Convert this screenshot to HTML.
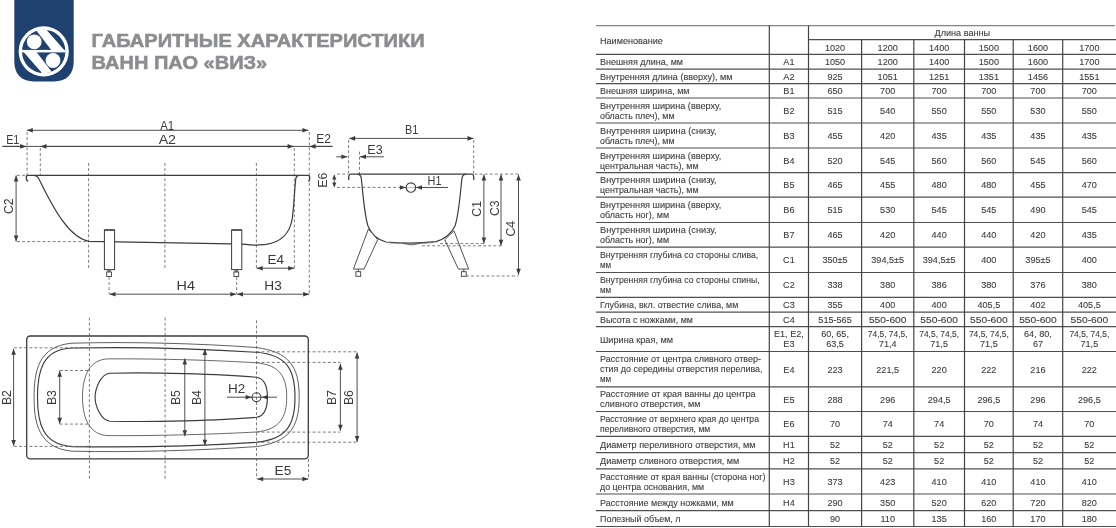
<!DOCTYPE html><html><head><meta charset="utf-8"><style>html,body{margin:0;padding:0;background:#fff;overflow:hidden}svg{display:block;will-change:transform}text{font-family:"Liberation Sans",sans-serif}</style></head><body>
<svg width="1116" height="528" viewBox="0 0 1116 528">
<rect width="1116" height="528" fill="#fff"/>
<path d="M14.3 0 H73.7 V61.3 C73.7 74 67 81.5 54 81.5 H34 C21 81.5 14.3 74 14.3 61.3 Z" fill="#1f416f"/>
<circle cx="43.7" cy="51.4" r="25.1" fill="#fff"/>
<circle cx="43.7" cy="51.4" r="21.7" fill="#1f416f"/>
<clipPath id="lc"><circle cx="43.7" cy="51.4" r="21.8"/></clipPath>
<g clip-path="url(#lc)" fill="#fff">
<rect x="18" y="49.9" width="52" height="2.5"/>
<polygon points="28.18,20.00 37.84,20.00 65.09,51.00 52.08,51.00"/>
<polygon points="59.82,82.30 50.16,82.30 22.91,51.30 35.92,51.30"/>
</g>
<circle cx="34.2" cy="41.8" r="7.4" fill="#fff"/>
<circle cx="53.0" cy="60.5" r="7.4" fill="#fff"/>
<g fill="#8c8d90" stroke="#8c8d90" stroke-width="0.55" font-weight="bold">
<text x="91.6" y="46.8" font-size="17.8" textLength="333" lengthAdjust="spacingAndGlyphs">ГАБАРИТНЫЕ ХАРАКТЕРИСТИКИ</text>
<text x="91.6" y="69.4" font-size="17.8" textLength="175.6" lengthAdjust="spacingAndGlyphs">ВАНН ПАО «ВИЗ»</text>
</g>
<line x1="26.8" y1="130.3" x2="308.4" y2="130.3" stroke="#3c3c3c" stroke-width="0.9" />
<polygon points="26.80,130.30 32.80,128.00 32.80,132.60" fill="#3c3c3c"/>
<polygon points="308.40,130.30 302.40,132.60 302.40,128.00" fill="#3c3c3c"/>
<text x="167.15" y="129.6" font-size="12.3" fill="#3a3a3a" text-anchor="middle" textLength="14.0" lengthAdjust="spacingAndGlyphs">A1</text>
<line x1="40.5" y1="146.4" x2="293.6" y2="146.4" stroke="#3c3c3c" stroke-width="0.9" />
<polygon points="40.50,146.40 46.50,144.10 46.50,148.70" fill="#3c3c3c"/>
<polygon points="293.60,146.40 287.60,148.70 287.60,144.10" fill="#3c3c3c"/>
<text x="167.35" y="143.8" font-size="12.3" fill="#3a3a3a" text-anchor="middle" textLength="17.4" lengthAdjust="spacingAndGlyphs">A2</text>
<line x1="2.5" y1="146.4" x2="26.2" y2="146.4" stroke="#3c3c3c" stroke-width="0.9" />
<polygon points="26.20,146.40 20.20,148.70 20.20,144.10" fill="#3c3c3c"/>
<text x="12.75" y="143.7" font-size="12.3" fill="#3a3a3a" text-anchor="middle" textLength="13.2" lengthAdjust="spacingAndGlyphs">E1</text>
<line x1="332.5" y1="146.4" x2="309.6" y2="146.4" stroke="#3c3c3c" stroke-width="0.9" />
<polygon points="309.60,146.40 315.60,144.10 315.60,148.70" fill="#3c3c3c"/>
<text x="323.65" y="143.4" font-size="12.3" fill="#3a3a3a" text-anchor="middle" textLength="14.6" lengthAdjust="spacingAndGlyphs">E2</text>
<line x1="2.5" y1="146.4" x2="332.5" y2="146.4" stroke="#3c3c3c" stroke-width="0.9" />
<line x1="27.1" y1="132" x2="27.1" y2="175" stroke="#5a5a5a" stroke-width="0.8" stroke-dasharray="2.9 2.2"/>
<line x1="40.3" y1="148" x2="40.3" y2="175" stroke="#5a5a5a" stroke-width="0.8" stroke-dasharray="2.9 2.2"/>
<line x1="294.3" y1="148" x2="294.3" y2="269" stroke="#5a5a5a" stroke-width="0.8" stroke-dasharray="2.9 2.2"/>
<line x1="309.3" y1="132" x2="309.3" y2="293.5" stroke="#5a5a5a" stroke-width="0.8" stroke-dasharray="2.9 2.2"/>
<line x1="88.6" y1="163" x2="88.6" y2="269" stroke="#5a5a5a" stroke-width="0.8" stroke-dasharray="2.9 2.2"/>
<line x1="164.9" y1="163" x2="164.9" y2="269" stroke="#5a5a5a" stroke-width="0.8" stroke-dasharray="2.9 2.2"/>
<line x1="256.4" y1="163" x2="256.4" y2="269" stroke="#5a5a5a" stroke-width="0.8" stroke-dasharray="2.9 2.2"/>
<path d="M28.2 181 Q26.3 180.6 26.3 178.6 V176.6 Q26.3 175.3 28 175.3 H308 Q309.6 175.3 309.6 176.8 V179.5 Q309.6 181.2 308.3 181.4" fill="none" stroke="#3c3c3c" stroke-width="1.3"/>
<path d="M34.2 175.3 Q37 175.4 38.6 178.2 C55 212 70 238 89 241.3 L104.5 241.6 L231.5 243.9 L246 244.4 C252 245.6 258 245.3 266 244.4 C282 242 290 232 292.2 219 C294 206 294.5 190 295.8 178.5 Q296.5 175.3 299 175.3" fill="none" stroke="#3c3c3c" stroke-width="1.2"/>
<rect x="104.4" y="230" width="10.2" height="39.6" fill="#fff" stroke="#3c3c3c" stroke-width="1.0"/>
<line x1="104.4" y1="230" x2="114.60000000000001" y2="230" stroke="#3c3c3c" stroke-width="1.3" />
<rect x="106.7" y="272" width="4.8" height="4.5" fill="#fff" stroke="#3c3c3c" stroke-width="0.9"/>
<rect x="107.30" y="269.6" width="3.5" height="2.4" fill="#6a6a6a"/>
<rect x="231.6" y="230" width="10.2" height="39.6" fill="#fff" stroke="#3c3c3c" stroke-width="1.0"/>
<line x1="231.6" y1="230" x2="241.79999999999998" y2="230" stroke="#3c3c3c" stroke-width="1.3" />
<rect x="233.9" y="272" width="4.8" height="4.5" fill="#fff" stroke="#3c3c3c" stroke-width="0.9"/>
<rect x="234.50" y="269.6" width="3.5" height="2.4" fill="#6a6a6a"/>
<line x1="16.1" y1="175.5" x2="16.1" y2="241.4" stroke="#3c3c3c" stroke-width="0.9" />
<polygon points="16.10,175.50 18.40,181.50 13.80,181.50" fill="#3c3c3c"/>
<polygon points="16.10,241.40 13.80,235.40 18.40,235.40" fill="#3c3c3c"/>
<line x1="17" y1="175.3" x2="26.5" y2="175.3" stroke="#5a5a5a" stroke-width="0.8" stroke-dasharray="2.9 2.2"/>
<line x1="17" y1="241.6" x2="88" y2="241.6" stroke="#5a5a5a" stroke-width="0.8" stroke-dasharray="2.9 2.2"/>
<text x="0" y="0" font-size="12.3" fill="#3a3a3a" text-anchor="middle" transform="translate(12.6,206.2) rotate(-90)">C2</text>
<line x1="109.1" y1="277" x2="109.1" y2="294" stroke="#5a5a5a" stroke-width="0.8" stroke-dasharray="2.9 2.2"/>
<line x1="236.6" y1="277" x2="236.6" y2="294" stroke="#5a5a5a" stroke-width="0.8" stroke-dasharray="2.9 2.2"/>
<line x1="109.5" y1="294.2" x2="236.3" y2="294.2" stroke="#3c3c3c" stroke-width="0.9" />
<polygon points="109.50,294.20 115.50,291.90 115.50,296.50" fill="#3c3c3c"/>
<polygon points="236.30,294.20 230.30,296.50 230.30,291.90" fill="#3c3c3c"/>
<text x="185.75" y="290" font-size="12.3" fill="#3a3a3a" text-anchor="middle" textLength="18.4" lengthAdjust="spacingAndGlyphs">H4</text>
<line x1="237.0" y1="294.2" x2="309.2" y2="294.2" stroke="#3c3c3c" stroke-width="0.9" />
<polygon points="237.00,294.20 243.00,291.90 243.00,296.50" fill="#3c3c3c"/>
<polygon points="309.20,294.20 303.20,296.50 303.20,291.90" fill="#3c3c3c"/>
<text x="273.0" y="290" font-size="12.3" fill="#3a3a3a" text-anchor="middle" textLength="17.5" lengthAdjust="spacingAndGlyphs">H3</text>
<line x1="256.7" y1="268.2" x2="294.2" y2="268.2" stroke="#3c3c3c" stroke-width="0.9" />
<polygon points="256.70,268.20 262.70,265.90 262.70,270.50" fill="#3c3c3c"/>
<polygon points="294.20,268.20 288.20,270.50 288.20,265.90" fill="#3c3c3c"/>
<text x="275.8" y="263.8" font-size="12.3" fill="#3a3a3a" text-anchor="middle" textLength="16.5" lengthAdjust="spacingAndGlyphs">E4</text>
<line x1="349.2" y1="138.4" x2="473.5" y2="138.4" stroke="#3c3c3c" stroke-width="0.9" />
<polygon points="349.20,138.40 355.20,136.10 355.20,140.70" fill="#3c3c3c"/>
<polygon points="473.50,138.40 467.50,140.70 467.50,136.10" fill="#3c3c3c"/>
<text x="411.7" y="134.2" font-size="12.3" fill="#3a3a3a" text-anchor="middle" textLength="13.3" lengthAdjust="spacingAndGlyphs">B1</text>
<line x1="348.6" y1="140" x2="348.6" y2="174" stroke="#5a5a5a" stroke-width="0.8" stroke-dasharray="2.9 2.2"/>
<line x1="473.7" y1="140" x2="473.7" y2="174" stroke="#5a5a5a" stroke-width="0.8" stroke-dasharray="2.9 2.2"/>
<line x1="336.2" y1="156.8" x2="347.4" y2="156.8" stroke="#3c3c3c" stroke-width="0.9" />
<polygon points="347.40,156.80 341.40,159.10 341.40,154.50" fill="#3c3c3c"/>
<line x1="383.9" y1="156.8" x2="360.0" y2="156.8" stroke="#3c3c3c" stroke-width="0.9" />
<polygon points="360.00,156.80 366.00,154.50 366.00,159.10" fill="#3c3c3c"/>
<text x="374.95" y="153.9" font-size="12.3" fill="#3a3a3a" text-anchor="middle" textLength="15.4" lengthAdjust="spacingAndGlyphs">E3</text>
<line x1="359.5" y1="151.6" x2="359.5" y2="174" stroke="#5a5a5a" stroke-width="0.8" stroke-dasharray="2.9 2.2"/>
<path d="M348.7 180 Q348.3 174.1 350.5 174.1 H472 Q474 174.1 473.8 180" fill="none" stroke="#3c3c3c" stroke-width="1.3"/>
<path d="M357.5 174.1 Q360.5 174.3 361.3 178 C363 195 364.5 215 368 226 C371 234 377 239.5 386 242 C400 243.2 422 243.2 436 241.6 C445 239 451 234 455 226 C459 214 460 195 462 178 Q462.8 174.3 466 174.1" fill="none" stroke="#3c3c3c" stroke-width="1.2"/>
<path d="M388 242.8 C400 244 422 244 434 242.4" fill="none" stroke="#777" stroke-width="0.7"/><path d="M403 243.4 Q412 246.4 420 243.4" fill="none" stroke="#555" stroke-width="0.9"/>
<polygon points="368.4,229 377.7,239.7 364,269.1 353.4,269.1" fill="#fff" stroke="#3c3c3c" stroke-width="0.9"/>
<polygon points="454,230.8 444.7,239.7 458.4,269.1 468.6,269.1" fill="#fff" stroke="#3c3c3c" stroke-width="0.9"/>
<rect x="355.9" y="271.7" width="4.8" height="4.6" fill="#fff" stroke="#3c3c3c" stroke-width="0.9"/>
<rect x="461.4" y="271.7" width="4.8" height="4.6" fill="#fff" stroke="#3c3c3c" stroke-width="0.9"/>
<line x1="358.3" y1="269.1" x2="358.3" y2="271.7" stroke="#3c3c3c" stroke-width="0.9" />
<line x1="463.8" y1="269.1" x2="463.8" y2="271.7" stroke="#3c3c3c" stroke-width="0.9" />
<line x1="337" y1="174.1" x2="348" y2="174.1" stroke="#5a5a5a" stroke-width="0.8" stroke-dasharray="2.9 2.2"/>
<line x1="337" y1="187.4" x2="400" y2="187.4" stroke="#5a5a5a" stroke-width="0.8" stroke-dasharray="2.9 2.2"/>
<line x1="334.3" y1="175" x2="334.3" y2="187" stroke="#3c3c3c" stroke-width="0.8" />
<polygon points="334.30,174.40 336.40,179.40 332.20,179.40" fill="#3c3c3c"/>
<polygon points="334.30,187.40 332.20,182.40 336.40,182.40" fill="#3c3c3c"/>
<text x="0" y="0" font-size="12.3" fill="#3a3a3a" text-anchor="middle" transform="translate(327.4,180.2) rotate(-90)">E6</text>
<line x1="405" y1="187.5" x2="416" y2="187.5" stroke="#999" stroke-width="0.6" />
<circle cx="410.9" cy="187.5" r="4.7" fill="none" stroke="#3c3c3c" stroke-width="1.15"/>
<line x1="400" y1="187.5" x2="405.9" y2="187.5" stroke="#3c3c3c" stroke-width="0.9" />
<polygon points="405.90,187.50 399.90,189.80 399.90,185.20" fill="#3c3c3c"/>
<line x1="448" y1="187.5" x2="416.0" y2="187.5" stroke="#3c3c3c" stroke-width="0.9" />
<polygon points="416.00,187.50 422.00,185.20 422.00,189.80" fill="#3c3c3c"/>
<text x="434.5" y="185.2" font-size="12.3" fill="#3a3a3a" text-anchor="middle" textLength="13.9" lengthAdjust="spacingAndGlyphs">H1</text>
<line x1="474.5" y1="174.1" x2="520.6" y2="174.1" stroke="#5a5a5a" stroke-width="0.8" stroke-dasharray="2.9 2.2"/>
<line x1="483.9" y1="174.6" x2="483.9" y2="243.6" stroke="#3c3c3c" stroke-width="0.9" />
<polygon points="483.90,174.60 486.20,180.60 481.60,180.60" fill="#3c3c3c"/>
<polygon points="483.90,243.60 481.60,237.60 486.20,237.60" fill="#3c3c3c"/>
<line x1="501.0" y1="174.6" x2="501.0" y2="245.8" stroke="#3c3c3c" stroke-width="0.9" />
<polygon points="501.00,174.60 503.30,180.60 498.70,180.60" fill="#3c3c3c"/>
<polygon points="501.00,245.80 498.70,239.80 503.30,239.80" fill="#3c3c3c"/>
<line x1="518.5" y1="174.6" x2="518.5" y2="274.8" stroke="#3c3c3c" stroke-width="0.9" />
<polygon points="518.50,174.60 520.80,180.60 516.20,180.60" fill="#3c3c3c"/>
<polygon points="518.50,274.80 516.20,268.80 520.80,268.80" fill="#3c3c3c"/>
<line x1="440" y1="243.6" x2="483.9" y2="243.6" stroke="#5a5a5a" stroke-width="0.8" stroke-dasharray="2.9 2.2"/>
<line x1="422" y1="245.8" x2="501" y2="245.8" stroke="#5a5a5a" stroke-width="0.8" stroke-dasharray="2.9 2.2"/>
<line x1="466" y1="276" x2="518.5" y2="276" stroke="#5a5a5a" stroke-width="0.8" stroke-dasharray="2.9 2.2"/>
<text x="0" y="0" font-size="12.3" fill="#3a3a3a" text-anchor="middle" transform="translate(480.5,208.8) rotate(-90)">C1</text>
<text x="0" y="0" font-size="12.3" fill="#3a3a3a" text-anchor="middle" transform="translate(499,208.2) rotate(-90)">C3</text>
<text x="0" y="0" font-size="12.3" fill="#3a3a3a" text-anchor="middle" transform="translate(515,228.7) rotate(-90)">C4</text>
<rect x="26.7" y="336" width="281.6" height="122.8" rx="3.6" fill="none" stroke="#3c3c3c" stroke-width="1.3"/>
<path d="M34.1 397.2 C34.1 372 38 346 72 343.2 C130 341.5 200 343.5 256.6 347.5 C288 352 299.2 365 299.2 397.2 C299.2 429 288 442 256.6 446.6 C200 450.5 130 452.5 72 451.2 C38 448 34.1 422 34.1 397.2 Z" fill="none" stroke="#606060" stroke-width="1.0"/>
<path d="M37.5 397.2 C37.5 372 42 349 72 348 C130 346.8 200 348.5 256.6 352.3 C286 355 295 368 295 397.2 C295 426 286 439 256.6 442.3 C200 446 130 447.6 72 446.6 C42 445 37.5 422 37.5 397.2 Z" fill="none" stroke="#3c3c3c" stroke-width="1.15"/>
<path d="M82.5 397.2 C82.5 375 90 359.5 108 358.9 C160 358.5 220 360.5 256.6 362.8 C280 365 286.7 377 286.7 397.2 C286.7 417 280 429.5 256.6 432 C220 434 160 436 108 435.6 C90 435 82.5 419 82.5 397.2 Z" fill="none" stroke="#626262" stroke-width="0.95"/>
<path d="M95.1 397.2 C95.1 390 100 374 110 373.2 C150 372.2 220 373.8 256.6 377.3 C264 378.5 267.4 386 267.4 397.2 C267.4 408 264 416 256.6 417.3 C220 420.6 150 422.2 110 421.2 C100 420.4 95.1 404.4 95.1 397.2 Z" fill="none" stroke="#3c3c3c" stroke-width="1.15"/>
<line x1="89.4" y1="317.6" x2="89.4" y2="479" stroke="#5a5a5a" stroke-width="0.8" stroke-dasharray="2.9 2.2"/>
<line x1="165.1" y1="317.6" x2="165.1" y2="479" stroke="#5a5a5a" stroke-width="0.8" stroke-dasharray="2.9 2.2"/>
<line x1="256.5" y1="320.4" x2="256.5" y2="479" stroke="#5a5a5a" stroke-width="0.8" stroke-dasharray="2.9 2.2"/>
<line x1="308.5" y1="459" x2="308.5" y2="479" stroke="#5a5a5a" stroke-width="0.8" stroke-dasharray="2.9 2.2"/>
<line x1="14" y1="347.8" x2="89.4" y2="347.8" stroke="#5a5a5a" stroke-width="0.8" stroke-dasharray="2.9 2.2"/>
<line x1="14" y1="446.4" x2="89.4" y2="446.4" stroke="#5a5a5a" stroke-width="0.8" stroke-dasharray="2.9 2.2"/>
<line x1="13.6" y1="348.8" x2="13.6" y2="445.9" stroke="#3c3c3c" stroke-width="0.9" />
<polygon points="13.60,348.80 15.90,354.80 11.30,354.80" fill="#3c3c3c"/>
<polygon points="13.60,445.90 11.30,439.90 15.90,439.90" fill="#3c3c3c"/>
<text x="0" y="0" font-size="12.3" fill="#3a3a3a" text-anchor="middle" transform="translate(11.2,397.6) rotate(-90)">B2</text>
<line x1="59.7" y1="370.5" x2="89.4" y2="370.5" stroke="#5a5a5a" stroke-width="0.8" stroke-dasharray="2.9 2.2"/>
<line x1="59.7" y1="424.1" x2="89.4" y2="424.1" stroke="#5a5a5a" stroke-width="0.8" stroke-dasharray="2.9 2.2"/>
<line x1="59.7" y1="370.8" x2="59.7" y2="423.8" stroke="#3c3c3c" stroke-width="0.9" />
<polygon points="59.70,370.80 62.00,376.80 57.40,376.80" fill="#3c3c3c"/>
<polygon points="59.70,423.80 57.40,417.80 62.00,417.80" fill="#3c3c3c"/>
<text x="0" y="0" font-size="12.3" fill="#3a3a3a" text-anchor="middle" transform="translate(56.4,397.6) rotate(-90)">B3</text>
<line x1="184.8" y1="358.5" x2="184.8" y2="436.2" stroke="#3c3c3c" stroke-width="0.9" />
<polygon points="184.80,358.50 187.10,364.50 182.50,364.50" fill="#3c3c3c"/>
<polygon points="184.80,436.20 182.50,430.20 187.10,430.20" fill="#3c3c3c"/>
<line x1="204.9" y1="348.9" x2="204.9" y2="445.8" stroke="#3c3c3c" stroke-width="0.9" />
<polygon points="204.90,348.90 207.20,354.90 202.60,354.90" fill="#3c3c3c"/>
<polygon points="204.90,445.80 202.60,439.80 207.20,439.80" fill="#3c3c3c"/>
<text x="0" y="0" font-size="12.3" fill="#3a3a3a" text-anchor="middle" transform="translate(180.3,397.6) rotate(-90)">B5</text>
<text x="0" y="0" font-size="12.3" fill="#3a3a3a" text-anchor="middle" transform="translate(201.0,397.6) rotate(-90)">B4</text>
<line x1="227" y1="397.2" x2="277" y2="397.2" stroke="#3c3c3c" stroke-width="0.9" />
<polygon points="251.60,397.20 245.60,399.50 245.60,394.90" fill="#3c3c3c"/>
<polygon points="261.70,397.20 267.70,394.90 267.70,399.50" fill="#3c3c3c"/>
<circle cx="256.5" cy="397.2" r="4.4" fill="none" stroke="#3c3c3c" stroke-width="1.1"/>
<text x="236.55" y="393.4" font-size="12.3" fill="#3a3a3a" text-anchor="middle" textLength="17.2" lengthAdjust="spacingAndGlyphs">H2</text>
<line x1="256.5" y1="351.8" x2="357.1" y2="351.8" stroke="#5a5a5a" stroke-width="0.8" stroke-dasharray="2.9 2.2"/>
<line x1="256.5" y1="442.2" x2="357.1" y2="442.2" stroke="#5a5a5a" stroke-width="0.8" stroke-dasharray="2.9 2.2"/>
<line x1="256.5" y1="362.4" x2="340.4" y2="362.4" stroke="#5a5a5a" stroke-width="0.8" stroke-dasharray="2.9 2.2"/>
<line x1="256.5" y1="432.1" x2="340.4" y2="432.1" stroke="#5a5a5a" stroke-width="0.8" stroke-dasharray="2.9 2.2"/>
<line x1="357.1" y1="352.6" x2="357.1" y2="442.0" stroke="#3c3c3c" stroke-width="0.9" />
<polygon points="357.10,352.60 359.40,358.60 354.80,358.60" fill="#3c3c3c"/>
<polygon points="357.10,442.00 354.80,436.00 359.40,436.00" fill="#3c3c3c"/>
<line x1="340.4" y1="363.8" x2="340.4" y2="430.8" stroke="#3c3c3c" stroke-width="0.9" />
<polygon points="340.40,363.80 342.70,369.80 338.10,369.80" fill="#3c3c3c"/>
<polygon points="340.40,430.80 338.10,424.80 342.70,424.80" fill="#3c3c3c"/>
<text x="0" y="0" font-size="12.3" fill="#3a3a3a" text-anchor="middle" transform="translate(336.2,397.6) rotate(-90)">B7</text>
<text x="0" y="0" font-size="12.3" fill="#3a3a3a" text-anchor="middle" transform="translate(353.0,397.6) rotate(-90)">B6</text>
<line x1="257.2" y1="479" x2="308.4" y2="479" stroke="#3c3c3c" stroke-width="0.9" />
<polygon points="257.20,479.00 263.20,476.70 263.20,481.30" fill="#3c3c3c"/>
<polygon points="308.40,479.00 302.40,481.30 302.40,476.70" fill="#3c3c3c"/>
<text x="282.9" y="474.9" font-size="12.3" fill="#3a3a3a" text-anchor="middle" textLength="16.7" lengthAdjust="spacingAndGlyphs">E5</text>
<g font-size="9.1" fill="#3c3c3c" stroke="#3c3c3c" stroke-width="0.1">
<text x="600" y="43.50" text-anchor="start" textLength="62.9" lengthAdjust="spacingAndGlyphs">Наименование</text>
<text x="962.3" y="36.0" text-anchor="middle">Длина ванны</text>
<text x="835.05" y="50.50" text-anchor="middle">1020</text>
<text x="887.7" y="50.50" text-anchor="middle">1200</text>
<text x="939.15" y="50.50" text-anchor="middle">1400</text>
<text x="988.85" y="50.50" text-anchor="middle">1500</text>
<text x="1037.95" y="50.50" text-anchor="middle">1600</text>
<text x="1089.35" y="50.50" text-anchor="middle">1700</text>
<text x="600" y="65.30" text-anchor="start" textLength="83.0" lengthAdjust="spacingAndGlyphs">Внешняя длина, мм</text>
<text x="788.9" y="65.30" text-anchor="middle">A1</text>
<g font-size="9.1">
<text x="835.05" y="65.30" text-anchor="middle">1050</text>
<text x="887.7" y="65.30" text-anchor="middle">1200</text>
<text x="939.15" y="65.30" text-anchor="middle">1400</text>
<text x="988.85" y="65.30" text-anchor="middle">1500</text>
<text x="1037.95" y="65.30" text-anchor="middle">1600</text>
<text x="1089.35" y="65.30" text-anchor="middle">1700</text>
</g>
<text x="600" y="79.90" text-anchor="start" textLength="132.6" lengthAdjust="spacingAndGlyphs">Внутренняя длина (вверху), мм</text>
<text x="788.9" y="79.90" text-anchor="middle">A2</text>
<g font-size="9.1">
<text x="835.05" y="79.90" text-anchor="middle">925</text>
<text x="887.7" y="79.90" text-anchor="middle">1051</text>
<text x="939.15" y="79.90" text-anchor="middle">1251</text>
<text x="988.85" y="79.90" text-anchor="middle">1351</text>
<text x="1037.95" y="79.90" text-anchor="middle">1456</text>
<text x="1089.35" y="79.90" text-anchor="middle">1551</text>
</g>
<text x="600" y="94.30" text-anchor="start" textLength="89.5" lengthAdjust="spacingAndGlyphs">Внешняя ширина, мм</text>
<text x="788.9" y="94.30" text-anchor="middle">B1</text>
<g font-size="9.1">
<text x="835.05" y="94.30" text-anchor="middle">650</text>
<text x="887.7" y="94.30" text-anchor="middle">700</text>
<text x="939.15" y="94.30" text-anchor="middle">700</text>
<text x="988.85" y="94.30" text-anchor="middle">700</text>
<text x="1037.95" y="94.30" text-anchor="middle">700</text>
<text x="1089.35" y="94.30" text-anchor="middle">700</text>
</g>
<text x="600" y="108.80" text-anchor="start" textLength="121.3" lengthAdjust="spacingAndGlyphs">Внутренняя ширина (вверху,</text>
<text x="600" y="118.80" text-anchor="start" textLength="74.5" lengthAdjust="spacingAndGlyphs">область плеч), мм</text>
<text x="788.9" y="114.00" text-anchor="middle">B2</text>
<g font-size="9.1">
<text x="835.05" y="114.00" text-anchor="middle">515</text>
<text x="887.7" y="114.00" text-anchor="middle">540</text>
<text x="939.15" y="114.00" text-anchor="middle">550</text>
<text x="988.85" y="114.00" text-anchor="middle">550</text>
<text x="1037.95" y="114.00" text-anchor="middle">530</text>
<text x="1089.35" y="114.00" text-anchor="middle">550</text>
</g>
<text x="600" y="133.80" text-anchor="start" textLength="116.5" lengthAdjust="spacingAndGlyphs">Внутренняя ширина (снизу,</text>
<text x="600" y="143.80" text-anchor="start" textLength="74.5" lengthAdjust="spacingAndGlyphs">область плеч), мм</text>
<text x="788.9" y="139.00" text-anchor="middle">B3</text>
<g font-size="9.1">
<text x="835.05" y="139.00" text-anchor="middle">455</text>
<text x="887.7" y="139.00" text-anchor="middle">420</text>
<text x="939.15" y="139.00" text-anchor="middle">435</text>
<text x="988.85" y="139.00" text-anchor="middle">435</text>
<text x="1037.95" y="139.00" text-anchor="middle">435</text>
<text x="1089.35" y="139.00" text-anchor="middle">435</text>
</g>
<text x="600" y="158.60" text-anchor="start" textLength="121.3" lengthAdjust="spacingAndGlyphs">Внутренняя ширина (вверху,</text>
<text x="600" y="168.60" text-anchor="start" textLength="98.6" lengthAdjust="spacingAndGlyphs">центральная часть), мм</text>
<text x="788.9" y="163.80" text-anchor="middle">B4</text>
<g font-size="9.1">
<text x="835.05" y="163.80" text-anchor="middle">520</text>
<text x="887.7" y="163.80" text-anchor="middle">545</text>
<text x="939.15" y="163.80" text-anchor="middle">560</text>
<text x="988.85" y="163.80" text-anchor="middle">560</text>
<text x="1037.95" y="163.80" text-anchor="middle">545</text>
<text x="1089.35" y="163.80" text-anchor="middle">560</text>
</g>
<text x="600" y="183.20" text-anchor="start" textLength="116.5" lengthAdjust="spacingAndGlyphs">Внутренняя ширина (снизу,</text>
<text x="600" y="193.20" text-anchor="start" textLength="98.6" lengthAdjust="spacingAndGlyphs">центральная часть), мм</text>
<text x="788.9" y="188.40" text-anchor="middle">B5</text>
<g font-size="9.1">
<text x="835.05" y="188.40" text-anchor="middle">465</text>
<text x="887.7" y="188.40" text-anchor="middle">455</text>
<text x="939.15" y="188.40" text-anchor="middle">480</text>
<text x="988.85" y="188.40" text-anchor="middle">480</text>
<text x="1037.95" y="188.40" text-anchor="middle">455</text>
<text x="1089.35" y="188.40" text-anchor="middle">470</text>
</g>
<text x="600" y="208.15" text-anchor="start" textLength="121.3" lengthAdjust="spacingAndGlyphs">Внутренняя ширина (вверху,</text>
<text x="600" y="218.15" text-anchor="start" textLength="69.1" lengthAdjust="spacingAndGlyphs">область ног), мм</text>
<text x="788.9" y="213.35" text-anchor="middle">B6</text>
<g font-size="9.1">
<text x="835.05" y="213.35" text-anchor="middle">515</text>
<text x="887.7" y="213.35" text-anchor="middle">530</text>
<text x="939.15" y="213.35" text-anchor="middle">545</text>
<text x="988.85" y="213.35" text-anchor="middle">545</text>
<text x="1037.95" y="213.35" text-anchor="middle">490</text>
<text x="1089.35" y="213.35" text-anchor="middle">545</text>
</g>
<text x="600" y="233.15" text-anchor="start" textLength="116.5" lengthAdjust="spacingAndGlyphs">Внутренняя ширина (снизу,</text>
<text x="600" y="243.15" text-anchor="start" textLength="69.1" lengthAdjust="spacingAndGlyphs">область ног), мм</text>
<text x="788.9" y="238.35" text-anchor="middle">B7</text>
<g font-size="9.1">
<text x="835.05" y="238.35" text-anchor="middle">465</text>
<text x="887.7" y="238.35" text-anchor="middle">420</text>
<text x="939.15" y="238.35" text-anchor="middle">440</text>
<text x="988.85" y="238.35" text-anchor="middle">440</text>
<text x="1037.95" y="238.35" text-anchor="middle">420</text>
<text x="1089.35" y="238.35" text-anchor="middle">435</text>
</g>
<text x="600" y="258.15" text-anchor="start" textLength="158.2" lengthAdjust="spacingAndGlyphs">Внутренняя глубина со стороны слива,</text>
<text x="600" y="268.15" text-anchor="start" textLength="11.2" lengthAdjust="spacingAndGlyphs">мм</text>
<text x="788.9" y="263.35" text-anchor="middle">C1</text>
<g font-size="9.1">
<text x="835.05" y="263.35" text-anchor="middle">350±5</text>
<text x="887.7" y="263.35" text-anchor="middle">394,5±5</text>
<text x="939.15" y="263.35" text-anchor="middle">394,5±5</text>
<text x="988.85" y="263.35" text-anchor="middle">400</text>
<text x="1037.95" y="263.35" text-anchor="middle">395±5</text>
<text x="1089.35" y="263.35" text-anchor="middle">400</text>
</g>
<text x="600" y="283.25" text-anchor="start" textLength="159.6" lengthAdjust="spacingAndGlyphs">Внутренняя глубина со стороны спины,</text>
<text x="600" y="293.25" text-anchor="start" textLength="11.2" lengthAdjust="spacingAndGlyphs">мм</text>
<text x="788.9" y="288.45" text-anchor="middle">C2</text>
<g font-size="9.1">
<text x="835.05" y="288.45" text-anchor="middle">338</text>
<text x="887.7" y="288.45" text-anchor="middle">380</text>
<text x="939.15" y="288.45" text-anchor="middle">386</text>
<text x="988.85" y="288.45" text-anchor="middle">380</text>
<text x="1037.95" y="288.45" text-anchor="middle">376</text>
<text x="1089.35" y="288.45" text-anchor="middle">380</text>
</g>
<text x="600" y="308.25" text-anchor="start" textLength="138.3" lengthAdjust="spacingAndGlyphs">Глубина, вкл. отвестие слива, мм</text>
<text x="788.9" y="308.25" text-anchor="middle">C3</text>
<g font-size="9.1">
<text x="835.05" y="308.25" text-anchor="middle">355</text>
<text x="887.7" y="308.25" text-anchor="middle">400</text>
<text x="939.15" y="308.25" text-anchor="middle">400</text>
<text x="988.85" y="308.25" text-anchor="middle">405,5</text>
<text x="1037.95" y="308.25" text-anchor="middle">402</text>
<text x="1089.35" y="308.25" text-anchor="middle">405,5</text>
</g>
<text x="600" y="322.90" text-anchor="start" textLength="92.9" lengthAdjust="spacingAndGlyphs">Высота с ножками, мм</text>
<text x="788.9" y="322.90" text-anchor="middle">C4</text>
<g font-size="9.1">
<text x="835.05" y="322.90" text-anchor="middle" textLength="33.4" lengthAdjust="spacingAndGlyphs">515-565</text>
<text x="887.7" y="322.90" text-anchor="middle" textLength="37.6" lengthAdjust="spacingAndGlyphs">550-600</text>
<text x="939.15" y="322.90" text-anchor="middle" textLength="37.6" lengthAdjust="spacingAndGlyphs">550-600</text>
<text x="988.85" y="322.90" text-anchor="middle" textLength="37.6" lengthAdjust="spacingAndGlyphs">550-600</text>
<text x="1037.95" y="322.90" text-anchor="middle" textLength="37.6" lengthAdjust="spacingAndGlyphs">550-600</text>
<text x="1089.35" y="322.90" text-anchor="middle" textLength="37.6" lengthAdjust="spacingAndGlyphs">550-600</text>
</g>
<text x="600" y="342.60" text-anchor="start" textLength="73.0" lengthAdjust="spacingAndGlyphs">Ширина края, мм</text>
<text x="788.9" y="337.40" text-anchor="middle">E1, E2,</text>
<text x="788.9" y="347.40" text-anchor="middle">E3</text>
<g font-size="9.1">
<text x="835.05" y="337.40" text-anchor="middle">60, 65,</text>
<text x="835.05" y="347.40" text-anchor="middle">63,5</text>
<text x="887.7" y="337.40" text-anchor="middle" textLength="39.8" lengthAdjust="spacingAndGlyphs">74,5, 74,5,</text>
<text x="887.7" y="347.40" text-anchor="middle">71,4</text>
<text x="939.15" y="337.40" text-anchor="middle" textLength="39.8" lengthAdjust="spacingAndGlyphs">74,5, 74,5,</text>
<text x="939.15" y="347.40" text-anchor="middle">71,5</text>
<text x="988.85" y="337.40" text-anchor="middle" textLength="39.8" lengthAdjust="spacingAndGlyphs">74,5, 74,5,</text>
<text x="988.85" y="347.40" text-anchor="middle">71,5</text>
<text x="1037.95" y="337.40" text-anchor="middle">64, 80,</text>
<text x="1037.95" y="347.40" text-anchor="middle">67</text>
<text x="1089.35" y="337.40" text-anchor="middle" textLength="39.8" lengthAdjust="spacingAndGlyphs">74,5, 74,5,</text>
<text x="1089.35" y="347.40" text-anchor="middle">71,5</text>
</g>
<text x="600" y="361.95" text-anchor="start" textLength="161.0" lengthAdjust="spacingAndGlyphs">Расстояние от центра сливного отвер-</text>
<text x="600" y="371.95" text-anchor="start" textLength="162.5" lengthAdjust="spacingAndGlyphs">стия до середины отверстия перелива,</text>
<text x="600" y="381.95" text-anchor="start" textLength="11.2" lengthAdjust="spacingAndGlyphs">мм</text>
<text x="788.9" y="372.65" text-anchor="middle">E4</text>
<g font-size="9.1">
<text x="835.05" y="372.65" text-anchor="middle">223</text>
<text x="887.7" y="372.65" text-anchor="middle">221,5</text>
<text x="939.15" y="372.65" text-anchor="middle">220</text>
<text x="988.85" y="372.65" text-anchor="middle">222</text>
<text x="1037.95" y="372.65" text-anchor="middle">216</text>
<text x="1089.35" y="372.65" text-anchor="middle">222</text>
</g>
<text x="600" y="397.45" text-anchor="start" textLength="155.5" lengthAdjust="spacingAndGlyphs">Расстояние от края ванны до центра</text>
<text x="600" y="407.45" text-anchor="start" textLength="100.5" lengthAdjust="spacingAndGlyphs">сливного отверстия, мм</text>
<text x="788.9" y="402.65" text-anchor="middle">E5</text>
<g font-size="9.1">
<text x="835.05" y="402.65" text-anchor="middle">288</text>
<text x="887.7" y="402.65" text-anchor="middle">296</text>
<text x="939.15" y="402.65" text-anchor="middle">294,5</text>
<text x="988.85" y="402.65" text-anchor="middle">296,5</text>
<text x="1037.95" y="402.65" text-anchor="middle">296</text>
<text x="1089.35" y="402.65" text-anchor="middle">296,5</text>
</g>
<text x="600" y="422.25" text-anchor="start" textLength="159.0" lengthAdjust="spacingAndGlyphs">Расстояние от верхнего края до центра</text>
<text x="600" y="432.25" text-anchor="start" textLength="110.3" lengthAdjust="spacingAndGlyphs">переливного отверстия, мм</text>
<text x="788.9" y="427.45" text-anchor="middle">E6</text>
<g font-size="9.1">
<text x="835.05" y="427.45" text-anchor="middle">70</text>
<text x="887.7" y="427.45" text-anchor="middle">74</text>
<text x="939.15" y="427.45" text-anchor="middle">74</text>
<text x="988.85" y="427.45" text-anchor="middle">70</text>
<text x="1037.95" y="427.45" text-anchor="middle">74</text>
<text x="1089.35" y="427.45" text-anchor="middle">70</text>
</g>
<text x="600" y="448.05" text-anchor="start" textLength="155.5" lengthAdjust="spacingAndGlyphs">Диаметр переливного отверстия, мм</text>
<text x="788.9" y="448.05" text-anchor="middle">H1</text>
<g font-size="9.1">
<text x="835.05" y="448.05" text-anchor="middle">52</text>
<text x="887.7" y="448.05" text-anchor="middle">52</text>
<text x="939.15" y="448.05" text-anchor="middle">52</text>
<text x="988.85" y="448.05" text-anchor="middle">52</text>
<text x="1037.95" y="448.05" text-anchor="middle">52</text>
<text x="1089.35" y="448.05" text-anchor="middle">52</text>
</g>
<text x="600" y="464.30" text-anchor="start" textLength="139.3" lengthAdjust="spacingAndGlyphs">Диаметр сливного отверстия, мм</text>
<text x="788.9" y="464.30" text-anchor="middle">H2</text>
<g font-size="9.1">
<text x="835.05" y="464.30" text-anchor="middle">52</text>
<text x="887.7" y="464.30" text-anchor="middle">52</text>
<text x="939.15" y="464.30" text-anchor="middle">52</text>
<text x="988.85" y="464.30" text-anchor="middle">52</text>
<text x="1037.95" y="464.30" text-anchor="middle">52</text>
<text x="1089.35" y="464.30" text-anchor="middle">52</text>
</g>
<text x="600" y="479.75" text-anchor="start" textLength="165.5" lengthAdjust="spacingAndGlyphs">Расстояние от края ванны (сторона ног)</text>
<text x="600" y="489.75" text-anchor="start" textLength="104.1" lengthAdjust="spacingAndGlyphs">до центра основания, мм</text>
<text x="788.9" y="484.95" text-anchor="middle">H3</text>
<g font-size="9.1">
<text x="835.05" y="484.95" text-anchor="middle">373</text>
<text x="887.7" y="484.95" text-anchor="middle">423</text>
<text x="939.15" y="484.95" text-anchor="middle">410</text>
<text x="988.85" y="484.95" text-anchor="middle">410</text>
<text x="1037.95" y="484.95" text-anchor="middle">410</text>
<text x="1089.35" y="484.95" text-anchor="middle">410</text>
</g>
<text x="600" y="505.85" text-anchor="start" textLength="133.8" lengthAdjust="spacingAndGlyphs">Расстояние между ножками, мм</text>
<text x="788.9" y="505.85" text-anchor="middle">H4</text>
<g font-size="9.1">
<text x="835.05" y="505.85" text-anchor="middle">290</text>
<text x="887.7" y="505.85" text-anchor="middle">350</text>
<text x="939.15" y="505.85" text-anchor="middle">520</text>
<text x="988.85" y="505.85" text-anchor="middle">620</text>
<text x="1037.95" y="505.85" text-anchor="middle">720</text>
<text x="1089.35" y="505.85" text-anchor="middle">820</text>
</g>
<text x="600" y="522.10" text-anchor="start" textLength="80.5" lengthAdjust="spacingAndGlyphs">Полезный объем, л</text>
<text x="788.9" y="522.10" text-anchor="middle"></text>
<g font-size="9.1">
<text x="835.05" y="522.10" text-anchor="middle">90</text>
<text x="887.7" y="522.10" text-anchor="middle">110</text>
<text x="939.15" y="522.10" text-anchor="middle">135</text>
<text x="988.85" y="522.10" text-anchor="middle">160</text>
<text x="1037.95" y="522.10" text-anchor="middle">170</text>
<text x="1089.35" y="522.10" text-anchor="middle">180</text>
</g>
</g>
<line x1="596" y1="25.6" x2="1115" y2="25.6" stroke="#858585" stroke-width="1.4"/>
<line x1="596" y1="54.4" x2="1116" y2="54.4" stroke="#505050" stroke-width="1.2"/>
<line x1="596" y1="69.2" x2="1116" y2="69.2" stroke="#505050" stroke-width="1.2"/>
<line x1="596" y1="83.6" x2="1116" y2="83.6" stroke="#505050" stroke-width="1.2"/>
<line x1="596" y1="98.0" x2="1116" y2="98.0" stroke="#505050" stroke-width="1.2"/>
<line x1="596" y1="123.0" x2="1116" y2="123.0" stroke="#505050" stroke-width="1.2"/>
<line x1="596" y1="148.0" x2="1116" y2="148.0" stroke="#505050" stroke-width="1.2"/>
<line x1="596" y1="172.6" x2="1116" y2="172.6" stroke="#505050" stroke-width="1.2"/>
<line x1="596" y1="197.2" x2="1116" y2="197.2" stroke="#505050" stroke-width="1.2"/>
<line x1="596" y1="222.5" x2="1116" y2="222.5" stroke="#505050" stroke-width="1.2"/>
<line x1="596" y1="247.2" x2="1116" y2="247.2" stroke="#505050" stroke-width="1.2"/>
<line x1="596" y1="272.5" x2="1116" y2="272.5" stroke="#505050" stroke-width="1.2"/>
<line x1="596" y1="297.4" x2="1116" y2="297.4" stroke="#505050" stroke-width="1.2"/>
<line x1="596" y1="312.1" x2="1116" y2="312.1" stroke="#505050" stroke-width="1.2"/>
<line x1="596" y1="326.7" x2="1116" y2="326.7" stroke="#505050" stroke-width="1.2"/>
<line x1="596" y1="351.5" x2="1116" y2="351.5" stroke="#505050" stroke-width="1.2"/>
<line x1="596" y1="386.8" x2="1116" y2="386.8" stroke="#505050" stroke-width="1.2"/>
<line x1="596" y1="411.5" x2="1116" y2="411.5" stroke="#505050" stroke-width="1.2"/>
<line x1="596" y1="436.4" x2="1116" y2="436.4" stroke="#505050" stroke-width="1.2"/>
<line x1="596" y1="452.7" x2="1116" y2="452.7" stroke="#505050" stroke-width="1.2"/>
<line x1="596" y1="468.9" x2="1116" y2="468.9" stroke="#505050" stroke-width="1.2"/>
<line x1="596" y1="494.0" x2="1116" y2="494.0" stroke="#505050" stroke-width="1.2"/>
<line x1="596" y1="510.7" x2="1116" y2="510.7" stroke="#505050" stroke-width="1.2"/>
<line x1="596" y1="526.5" x2="1116" y2="526.5" stroke="#505050" stroke-width="1.2"/>
<line x1="808.5" y1="39.6" x2="1116" y2="39.6" stroke="#505050" stroke-width="1.1"/>
<line x1="769.3" y1="25.6" x2="769.3" y2="526.5" stroke="#444444" stroke-width="1.2"/>
<line x1="808.5" y1="25.6" x2="808.5" y2="526.5" stroke="#444444" stroke-width="1.2"/>
<line x1="861.6" y1="39.6" x2="861.6" y2="526.5" stroke="#444444" stroke-width="1.2"/>
<line x1="913.8" y1="39.6" x2="913.8" y2="526.5" stroke="#444444" stroke-width="1.2"/>
<line x1="964.5" y1="39.6" x2="964.5" y2="526.5" stroke="#444444" stroke-width="1.2"/>
<line x1="1013.2" y1="39.6" x2="1013.2" y2="526.5" stroke="#444444" stroke-width="1.2"/>
<line x1="1062.7" y1="39.6" x2="1062.7" y2="526.5" stroke="#444444" stroke-width="1.2"/>
</svg></body></html>
